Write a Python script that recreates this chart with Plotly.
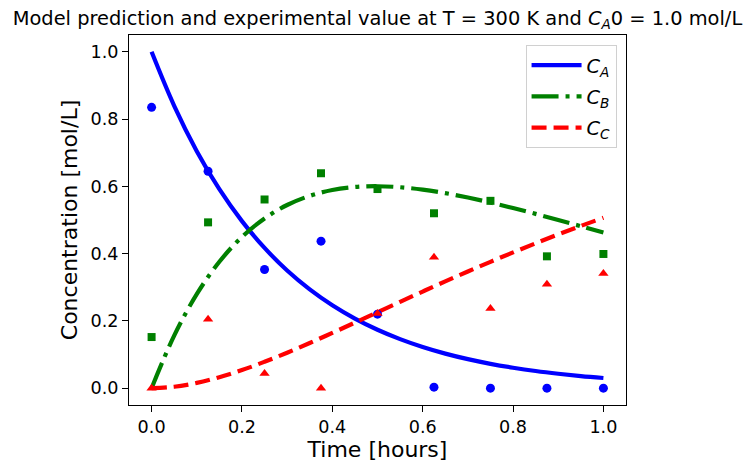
import plotly.graph_objects as go

# Model curves
t_model = [0.0, 0.05, 0.1, 0.15, 0.2, 0.25, 0.3, 0.35, 0.4, 0.45, 0.5,
           0.55, 0.6, 0.65, 0.7, 0.75, 0.8, 0.85, 0.9, 0.95, 1.0]
ca_model = [1.0, 0.8395, 0.7047, 0.5916, 0.4966, 0.4169, 0.3499, 0.2938, 0.2466, 0.2070, 0.1738,
            0.1459, 0.1225, 0.1028, 0.0863, 0.0724, 0.0608, 0.0510, 0.0429, 0.0360, 0.0302]
cb_model = [0.0, 0.1563, 0.2797, 0.3758, 0.4496, 0.5046, 0.5446, 0.5718, 0.5890, 0.5981, 0.6004,
            0.5974, 0.5902, 0.5798, 0.5668, 0.5519, 0.5355, 0.5182, 0.4999, 0.4816, 0.4631]
cc_model = [0.0, 0.0042, 0.0156, 0.0326, 0.0538, 0.0785, 0.1055, 0.1344, 0.1644, 0.1949, 0.2258,
            0.2567, 0.2873, 0.3174, 0.3469, 0.3757, 0.4037, 0.4308, 0.4572, 0.4824, 0.5067]

# Experimental values
t_exp = [0.0, 0.125, 0.25, 0.375, 0.5, 0.625, 0.75, 0.875, 1.0]
ca_exp = [0.835, 0.645, 0.353, 0.437, 0.220, 0.003, 0.0, 0.0, 0.0]
cb_exp = [0.152, 0.493, 0.561, 0.639, 0.592, 0.520, 0.557, 0.392, 0.399]
cc_exp = [0.0, 0.205, 0.044, 0.0, 0.222, 0.389, 0.237, 0.309, 0.341]

x_ticks = [0.0, 0.2, 0.4, 0.6, 0.8, 1.0]
y_ticks = [0.0, 0.2, 0.4, 0.6, 0.8, 1.0]

FONT = "DejaVu Sans"
LW = 4.2
fig = go.Figure()

fig.add_trace(go.Scatter(x=t_model, y=ca_model, mode="lines", line=dict(color="blue", width=LW, shape="spline"),
                         name="<i>C</i><sub><i>A</i></sub>", legendgroup="a"))
fig.add_trace(go.Scatter(x=t_model, y=cb_model, mode="lines",
                         line=dict(color="green", width=LW, dash="27px,7px,4px,7px", shape="spline"),
                         name="<i>C</i><sub><i>B</i></sub>", legendgroup="b"))
fig.add_trace(go.Scatter(x=t_model, y=cc_model, mode="lines",
                         line=dict(color="red", width=LW, dash="15px,7px", shape="spline"),
                         name="<i>C</i><sub><i>C</i></sub>", legendgroup="c"))

fig.add_trace(go.Scatter(x=t_exp, y=ca_exp, mode="markers", showlegend=False,
                         marker=dict(symbol="circle", color="blue", size=9, line=dict(width=0))))
fig.add_trace(go.Scatter(x=t_exp, y=cb_exp, mode="markers", showlegend=False,
                         marker=dict(symbol="square", color="green", size=8, line=dict(width=0))))
fig.add_trace(go.Scatter(x=t_exp, y=cc_exp, mode="markers", showlegend=False,
                         marker=dict(symbol="triangle-up", color="red", size=9, line=dict(width=0))))

axis_common = dict(showline=True, linecolor="black", linewidth=1, mirror=True,
                   ticks="outside", ticklen=6, tickwidth=1, tickcolor="black",
                   showgrid=False, zeroline=False,
                   tickfont=dict(family=FONT, size=17.6, color="black"))

fig.update_layout(
    width=754, height=472,
    margin=dict(l=129, r=128, t=35, b=67),
    plot_bgcolor="white", paper_bgcolor="white",
    font=dict(family=FONT, color="black"),
    title=dict(text="Model prediction and experimental value at T = 300 K and <i>C</i><sub><i>A</i></sub>0 = 1.0 mol/L",
               x=0.5, xref="paper", xanchor="center", y=0.962, yref="container", yanchor="middle",
               font=dict(family=FONT, size=19.4, color="black")),
    xaxis=dict(range=[-0.05, 1.05], tickvals=x_ticks, ticktext=[f"{v:.1f}" for v in x_ticks],
               title=dict(text="Time [hours]", font=dict(family=FONT, size=22), standoff=4),
               **axis_common),
    yaxis=dict(range=[-0.05, 1.05], tickvals=y_ticks, ticktext=[f"{v:.1f}" for v in y_ticks],
               title=dict(text="Concentration [mol/L]", font=dict(family=FONT, size=22), standoff=6),
               **axis_common),
    legend=dict(x=0.981, y=0.973, xanchor="right", yanchor="top",
                bgcolor="rgba(255,255,255,0.8)", bordercolor="#d0d0d0", borderwidth=1,
                font=dict(family=FONT, size=19.4), itemwidth=50, tracegroupgap=3),
)

fig.write_html("out.html", config={"displayModeBar": False},
               post_script="document.body.style.margin='0px';")
